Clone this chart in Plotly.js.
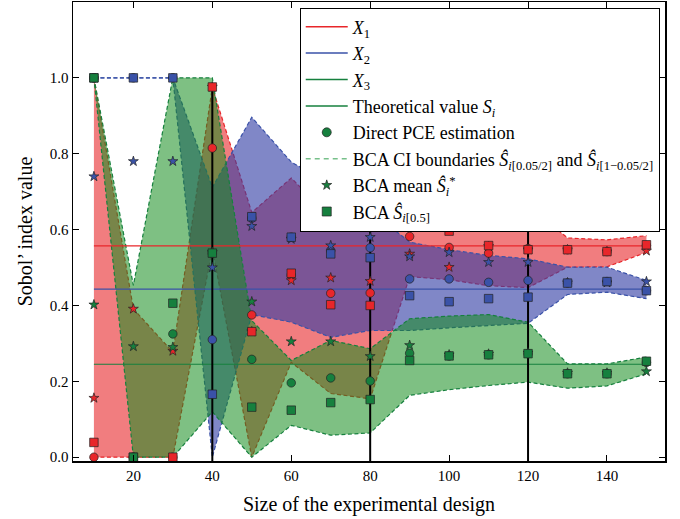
<!DOCTYPE html>
<html><head><meta charset="utf-8">
<script src="https://cdn.plot.ly/plotly-3.0.1.min.js"></script>
<style>body{margin:0;background:#fff}#chart{width:680px;height:519px}</style>
</head><body><div id="chart"></div>
<script>
// Sizes of the experimental design
const sizes = [10, 20, 30, 40, 50, 60, 70, 80, 90, 100, 110, 120, 130, 140, 150];

// Theoretical Sobol' indices
const theoretical = [0.557, 0.443, 0.245];

// X1 (red)
const lower1 = [0, 0, 0, 0.55, 0, 0.25, 0.168, 0.154, 0.476, 0.468, 0.452, 0.447, 0.501, 0.502, 0.540];
const upper1 = [1.0, 0.391, 0.277, 0.975, 0.645, 0.736, 0.63, 0.61, 0.64, 0.66, 0.665, 0.664, 0.578, 0.573, 0.584];
const pce1   = [0.0, 0.0, 0.0, 0.815, 0.375, 0.48, 0.432, 0.433, 0.582, 0.553, 0.538, 0.55, 0.547, 0.542, 0.558];
const mean1  = [0.156, 0.391, 0.28, 0.976, 0.331, 0.466, 0.473, 0.464, 0.536, 0.501, 0.556, 0.547, 0.547, 0.542, 0.544];
const med1   = [0.039, 0.0, 0.0, 0.976, 0.331, 0.485, 0.402, 0.40, 0.612, 0.596, 0.558, 0.547, 0.547, 0.542, 0.560];

// X2 (blue)
const lower2 = [1.0, 1.0, 1.0, 0.0, 0.376, 0.356, 0.316, 0.334, 0.334, 0.341, 0.347, 0.353, 0.429, 0.435, 0.418];
const upper2 = [1.0, 1.0, 1.0, 0.711, 0.896, 0.778, 0.72, 0.65, 0.567, 0.547, 0.532, 0.523, 0.501, 0.501, 0.466];
const pce2   = [1.0, 1.0, 1.0, 0.31, 0.63, 0.58, 0.545, 0.552, 0.470, 0.470, 0.461, 0.466, 0.459, 0.463, 0.439];
const mean2  = [0.74, 0.78, 0.78, 0.50, 0.609, 0.575, 0.558, 0.58, 0.529, 0.540, 0.514, 0.514, 0.46, 0.46, 0.463];
const med2   = [1.0, 1.0, 1.0, 0.166, 0.634, 0.58, 0.536, 0.526, 0.426, 0.41, 0.418, 0.422, 0.459, 0.463, 0.439];

// X3 (green)
const lower3 = [1.0, 0.0, 0.0, 0.12, 0.0, 0.084, 0.058, 0.064, 0.163, 0.178, 0.189, 0.198, 0.182, 0.188, 0.220];
const upper3 = [1.0, 0.453, 1.0, 1.0, 0.36, 0.255, 0.308, 0.286, 0.365, 0.372, 0.376, 0.356, 0.246, 0.246, 0.264];
const pce3   = [1.0, 0.0, 0.325, 0.538, 0.258, 0.196, 0.209, 0.201, 0.274, 0.267, 0.270, 0.273, 0.22, 0.22, 0.25];
const mean3  = [0.402, 0.292, 0.29, 0.54, 0.41, 0.305, 0.305, 0.266, 0.295, 0.27, 0.272, 0.275, 0.222, 0.222, 0.226];
const med3   = [1.0, 0.0, 0.406, 0.538, 0.132, 0.124, 0.144, 0.152, 0.255, 0.267, 0.270, 0.273, 0.220, 0.220, 0.253];

// Vertical reference lines
const vlineX   = [40, 80, 120];
const vlineTop = [0.976, 1.1, 1.1];

const xTicks = [20, 40, 60, 80, 100, 120, 140];
const yTicks = [0.0, 0.2, 0.4, 0.6, 0.8, 1.0];

const colors = ['#e8262a', '#3a52a8', '#16803e'];
const fills  = ['rgba(232,38,42,0.6)', 'rgba(50,62,165,0.62)', 'rgba(20,140,30,0.55)'];

const lowers = [lower1, lower2, lower3];
const uppers = [upper1, upper2, upper3];
const pces = [pce1, pce2, pce3];
const means = [mean1, mean2, mean3];
const meds = [med1, med2, med3];

const traces = [];
const dash = '4px,2.5px';
for (let k = 0; k < 3; k++) {
  traces.push({x: sizes, y: lowers[k], mode: 'lines', line: {color: colors[k], width: 1.2, dash: dash}, showlegend: false, hoverinfo: 'skip'});
  traces.push({x: sizes, y: uppers[k], mode: 'lines', fill: 'tonexty', fillcolor: fills[k], line: {color: colors[k], width: 1.2, dash: dash}, showlegend: false, hoverinfo: 'skip'});
}
for (let k = 0; k < 3; k++) {
  traces.push({x: [sizes[0], sizes[sizes.length - 1]], y: [theoretical[k], theoretical[k]], mode: 'lines', line: {color: colors[k], width: 1.1}, showlegend: false});
}
for (let i = 0; i < vlineX.length; i++) {
  traces.push({x: [vlineX[i], vlineX[i]], y: [-0.02, vlineTop[i]], mode: 'lines', line: {color: '#000', width: 2}, showlegend: false});
}
const edge = {color: '#222', width: 0.7};
for (let k = 0; k < 3; k++) {
  traces.push({x: sizes, y: pces[k], mode: 'markers', marker: {symbol: 'circle', size: 8.5, color: colors[k], line: edge}, showlegend: false});
}
for (let k = 0; k < 3; k++) {
  traces.push({x: sizes, y: means[k], mode: 'markers', marker: {symbol: 'star', size: 7.5, color: colors[k], line: edge}, showlegend: false});
}
for (let k = 0; k < 3; k++) {
  traces.push({x: sizes, y: meds[k], mode: 'markers', marker: {symbol: 'square', size: 8.5, color: colors[k], line: edge}, showlegend: false});
}

// Legend entries
const legendNames = [
  '<i>X</i><sub>1</sub>',
  '<i>X</i><sub>2</sub>',
  '<i>X</i><sub>3</sub>',
  'Theoretical value <i>S<sub>i</sub></i>',
  'Direct PCE estimation',
  'BCA CI boundaries <i>Ŝ</i><sub><i>i</i>[0.05/2]</sub> and <i>Ŝ</i><sub><i>i</i>[1−0.05/2]</sub>',
  'BCA mean <i>Ŝ</i><sub><i>i</i></sub><sup>*</sup>',
  'BCA <i>Ŝ</i><sub><i>i</i>[0.5]</sub>'
];
const g = colors[2];
traces.push({x: [null], y: [null], mode: 'lines', name: legendNames[0], line: {color: colors[0], width: 1.5}});
traces.push({x: [null], y: [null], mode: 'lines', name: legendNames[1], line: {color: colors[1], width: 1.5}});
traces.push({x: [null], y: [null], mode: 'lines', name: legendNames[2], line: {color: colors[2], width: 1.5}});
traces.push({x: [null], y: [null], mode: 'lines', name: legendNames[3], line: {color: g, width: 1.5}});
traces.push({x: [null], y: [null], mode: 'markers', name: legendNames[4], marker: {symbol: 'circle', size: 9, color: g, line: edge}});
traces.push({x: [null], y: [null], mode: 'lines', name: legendNames[5], line: {color: 'rgba(28,150,60,0.6)', width: 1.5, dash: '5px,4px'}});
traces.push({x: [null], y: [null], mode: 'markers', name: legendNames[6], marker: {symbol: 'star', size: 7.5, color: g, line: edge}});
traces.push({x: [null], y: [null], mode: 'markers', name: legendNames[7], marker: {symbol: 'square', size: 9, color: g, line: edge}});

const fontFam = 'Liberation Serif, Times New Roman, serif';
const layout = {
  width: 680, height: 519,
  margin: {l: 73, r: 15, t: 2, b: 58},
  paper_bgcolor: '#fff', plot_bgcolor: '#fff',
  font: {family: fontFam, color: '#000', size: 15},
  showlegend: true,
  legend: {
    x: 0.383, y: 0.988, xanchor: 'left', yanchor: 'top',
    bgcolor: '#fff', bordercolor: '#000', borderwidth: 1,
    font: {family: fontFam, size: 18, color: '#000'},
    tracegroupgap: 0, traceorder: 'normal', itemwidth: 42
  },
  xaxis: {
    range: [4.7, 154.7], tickvals: xTicks, ticktext: xTicks.map(String),
    ticks: 'inside', ticklen: 6, tickwidth: 1, tickcolor: '#000',
    showline: true, linecolor: '#000', linewidth: 1.5, mirror: 'ticks',
    showgrid: false, zeroline: false,
    tickfont: {family: fontFam, size: 15},
    title: {text: 'Size of the experimental design', font: {family: fontFam, size: 20}, standoff: 14}
  },
  yaxis: {
    range: [-0.01, 1.2], tickvals: yTicks, ticktext: yTicks.map(v => v.toFixed(1)),
    ticks: 'inside', ticklen: 6, tickwidth: 1, tickcolor: '#000',
    showline: true, linecolor: '#000', linewidth: 1.5, mirror: 'ticks',
    showgrid: false, zeroline: false,
    tickfont: {family: fontFam, size: 15},
    title: {text: 'Sobol’ index value', font: {family: fontFam, size: 20}, standoff: 12}
  }
};
Plotly.newPlot('chart', traces, layout, {displayModeBar: false, staticPlot: true});
</script>
</body></html>
